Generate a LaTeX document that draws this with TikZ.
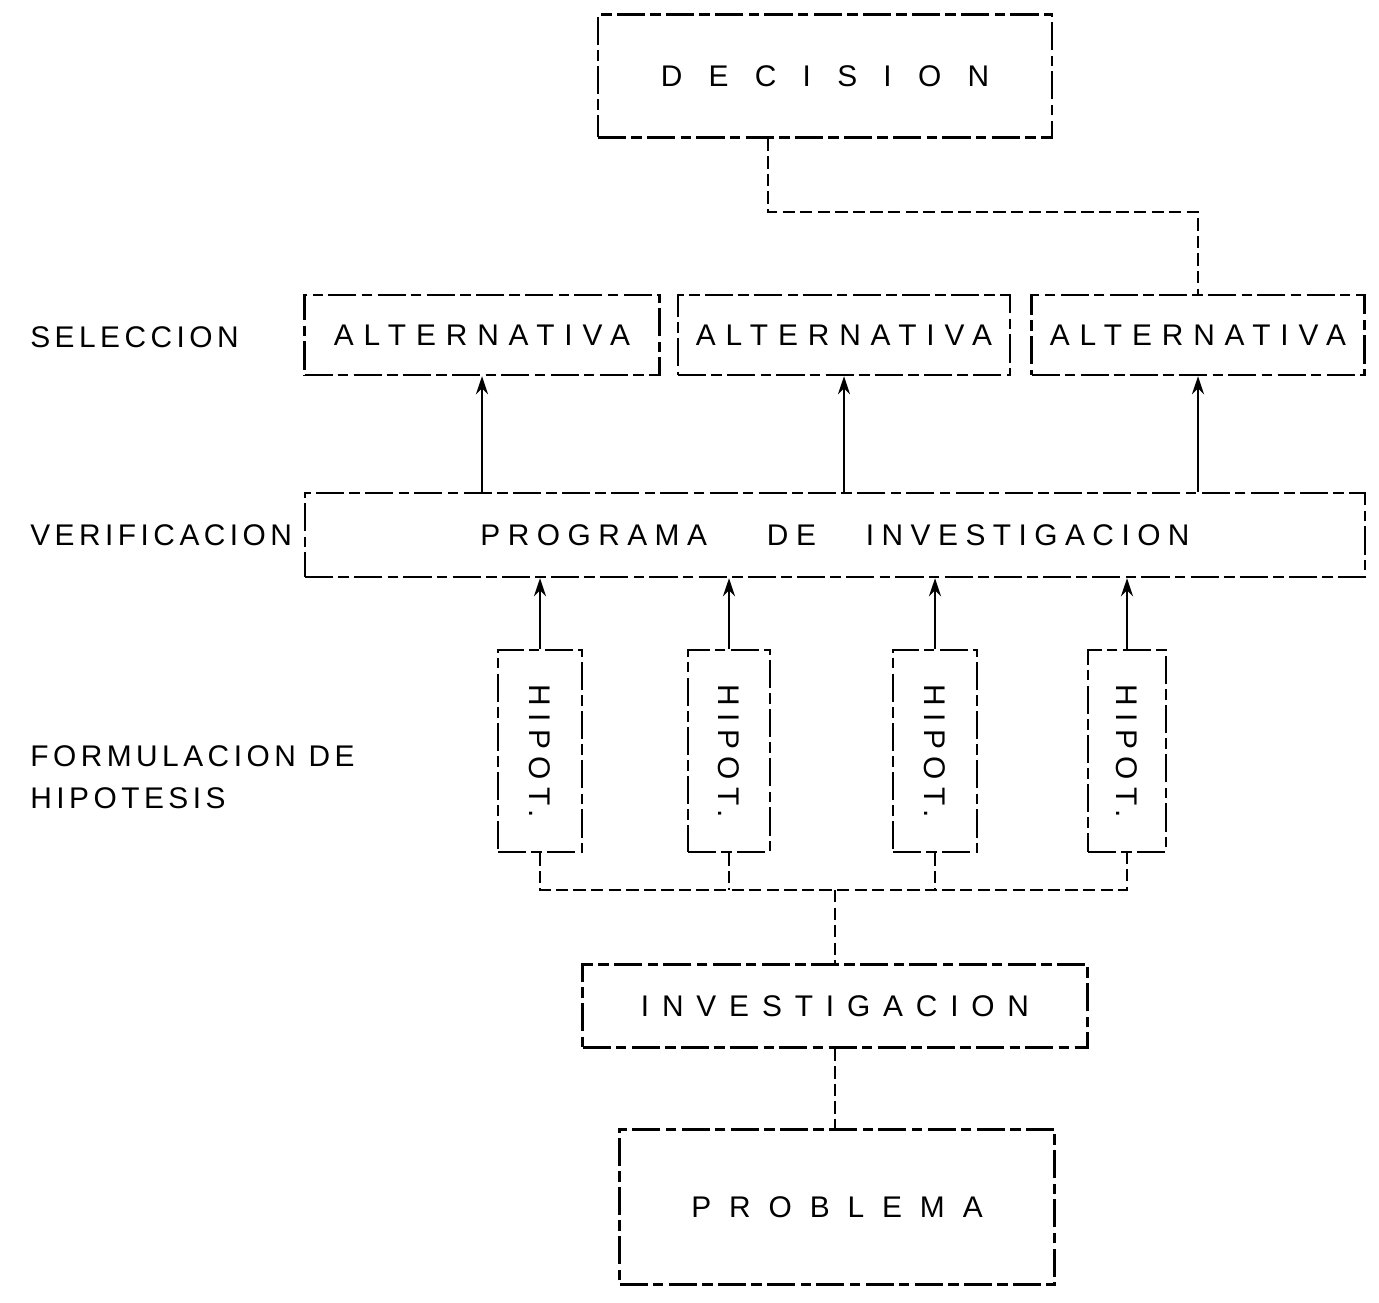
\documentclass[tikz,border=0pt]{standalone}
\usepackage{fontspec}
\usepackage{graphicx}
\newfontfamily\labelfont{Liberation Sans}[LetterSpace=15]
\newfontfamily\boxfont{Liberation Sans}[LetterSpace=33]
\newfontfamily\progfont{Liberation Sans}[LetterSpace=25]
\newfontfamily\investfont{Liberation Sans}[LetterSpace=43]
\newfontfamily\probfont{Liberation Sans}[LetterSpace=60]
\newfontfamily\decfont{Liberation Sans}[LetterSpace=88]
\newcommand\diagsize{\fontsize{17}{20}\selectfont}
\usetikzlibrary{arrows.meta,positioning}
\tikzset{
  stagebox/.style={draw=black, line width=1.4pt, dash pattern=on 16pt off 3pt on 6pt off 3pt, inner sep=0pt, align=center, font=\boxfont\diagsize},
  stagelabel/.style={anchor=west, align=left, inner sep=0pt, font=\labelfont\diagsize},
  uparrow/.style={-{Stealth[length=3.6mm,width=2.4mm]}, line width=1.3pt, draw=black},
  busline/.style={line width=1.3pt, draw=black, dash pattern=on 7pt off 3pt},
}

\begin{document}
\begin{tikzpicture}[x=0.02cm, y=-0.02cm]
    \useasboundingbox (0,0) rectangle (1379,1302);
    % top
    \node[stagebox, font=\decfont\diagsize, minimum width=9.08cm, minimum height=2.46cm] (decision) at (825,76) {DECISION};
    \node[stagebox, minimum width=7.1cm, minimum height=1.6cm] (alt1) at (482,335) {ALTERNATIVA};
    \node[stagebox, minimum width=6.64cm, minimum height=1.6cm] (alt2) at (844,335) {ALTERNATIVA};
    \node[stagebox, minimum width=6.66cm, minimum height=1.6cm] (alt3) at (1198,335) {ALTERNATIVA};
    \node[stagebox, font=\progfont\diagsize, minimum width=21.2cm, minimum height=1.68cm] (programa) at (835,535)
        {PROGRAMA\hspace{1.2cm}DE\hspace{1cm}INVESTIGACION};
    % hipotesis
    \node[stagebox, font=\progfont\diagsize, minimum width=1.68cm, minimum height=4.04cm] (hip1) at (540,751) {\rotatebox{-90}{HIPOT.}};
    \node[stagebox, font=\progfont\diagsize, minimum width=1.64cm, minimum height=4.04cm] (hip2) at (729,751) {\rotatebox{-90}{HIPOT.}};
    \node[stagebox, font=\progfont\diagsize, minimum width=1.68cm, minimum height=4.04cm] (hip3) at (935,751) {\rotatebox{-90}{HIPOT.}};
    \node[stagebox, font=\progfont\diagsize, minimum width=1.56cm, minimum height=4.04cm] (hip4) at (1127,751) {\rotatebox{-90}{HIPOT.}};
    % bottom
    \node[stagebox, font=\investfont\diagsize, minimum width=10.1cm, minimum height=1.66cm] (invest) at (835,1006) {INVESTIGACION};
    \node[stagebox, font=\probfont\diagsize, minimum width=8.7cm, minimum height=3.1cm] (problema) at (837,1207) {PROBLEMA};
    % stage names
    \node[stagelabel] (lblsel) at (30,337) {SELECCION};
    \node[stagelabel] (lblver) at (30,535) {VERIFICACION};
    \node[stagelabel] (lblform) at (30,777) {FORMULACION DE\\[4pt]HIPOTESIS};
    \coordinate (dturn) at (768,212);
    \coordinate (bus) at (835,890);
    \draw[busline] (decision.south -| dturn) -- (dturn) -| (alt3.north);
    \foreach \a in {alt1,alt2,alt3}
        \draw[uparrow] (programa.north -| \a) -- (\a.south);
    \foreach \h in {hip1,hip2,hip3,hip4}
        \draw[uparrow] (\h.north) -- (\h.north |- programa.south);
    \draw[busline] (hip1.south) -- (hip1.south |- bus) -- (hip4.south |- bus) -- (hip4.south);
    \draw[busline] (hip2.south) -- (hip2.south |- bus);
    \draw[busline] (hip3.south) -- (hip3.south |- bus);
    \draw[busline] (bus) -- (bus |- invest.north);
    \draw[busline] (invest.south -| bus) -- (problema.north -| bus);
\end{tikzpicture}
\end{document}
